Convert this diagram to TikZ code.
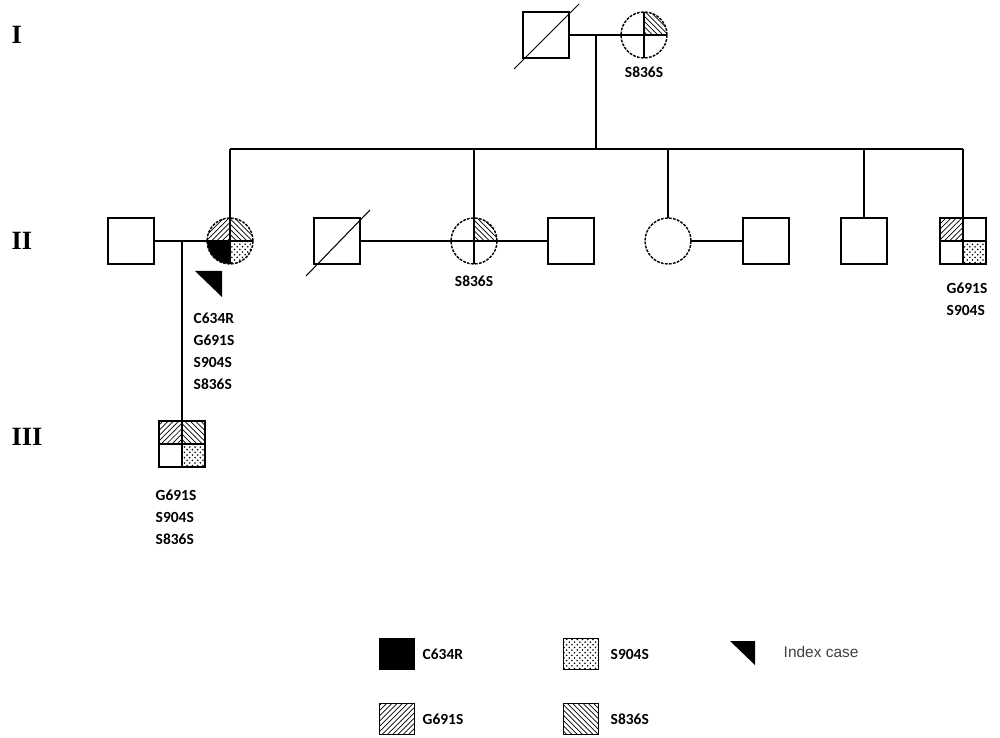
\documentclass[tikz,border=0pt]{standalone}
\usepackage{fontspec}
\setmainfont{Carlito}
\newfontfamily\genfont{Liberation Serif}
\newfontfamily\notefont{Liberation Sans}
\usetikzlibrary{patterns,calc,positioning}

% quarter of a circle node / of a square node
\newcommand\cquart[3]{\fill[#3] (#1.center) -- (#1.#2) arc[start angle=#2, delta angle=90, radius=0.46cm] -- cycle;}
\newcommand\squart[3]{\fill[#3] (#1.center) rectangle (#1.#2);}
\newcommand\cross[1]{\draw (#1.north) -- (#1.south) (#1.west) -- (#1.east);}

\begin{document}
\begin{tikzpicture}[
      x=0.02cm, y=0.02cm, line width=0.8pt,
      male/.style ={draw, rectangle, minimum size=0.92cm, inner sep=0pt, outer sep=0pt},
      female/.style ={draw, circle, dash pattern=on 1.6pt off 0.7pt, minimum size=0.92cm, inner sep=0pt, outer sep=0pt},
      var/.style ={font=\bfseries\fontsize{8.8}{12.5}\selectfont, align=left, anchor=north west, inner sep=0pt},
      gen/.style ={font=\genfont\bfseries\fontsize{15}{15}\selectfont, anchor=west, inner sep=0pt},
      keybox/.style ={draw, minimum width=0.7cm, minimum height=0.62cm, inner sep=0pt},
      keytext/.style ={font=\bfseries\fontsize{8.8}{10}\selectfont, anchor=west, inner sep=0pt},
      dead/.style ={line width=0.6pt}]
    \useasboundingbox (0,0) rectangle (1000,737);

    % generations
    \node[gen] (gI) at (11,702) {I};
    \node[gen] (gII) at (11,496) {II};
    \node[gen] (gIII) at (11,300) {III};

    % I
    \node[male] (I1) at (546,702) {};
    \node[female] (I2) at (644,702) {};
    \cquart{I2}{0}{pattern=north west lines}
    \cross{I2}
    \draw[dead] ($(I1)+(-32,-34)$) -- ($(I1)+(33,31)$);
    \node[font=\bfseries\fontsize{8.8}{10}\selectfont] (vI2) at (644,665) {S836S};
    \draw (I1) -- (I2);
    \coordinate (c1) at (596,702);
    \coordinate (s1) at (596,588);
    \draw (c1) -- (s1);

    % II
    \node[male] (II1) at (131,496) {};
    \node[female] (II2) at (230,496) {};
    \node[male] (II3) at (337,496) {};
    \node[female] (II4) at (474,496) {};
    \node[male] (II5) at (571,496) {};
    \node[female] (II6) at (668,496) {};
    \node[male] (II7) at (766,496) {};
    \node[male] (II8) at (864,496) {};
    \node[male] (II9) at (963,496) {};

    \cquart{II2}{90}{pattern=north east lines}
    \cquart{II2}{0}{pattern=north west lines}
    \cquart{II2}{180}{fill=black}
    \cquart{II2}{270}{pattern=crosshatch dots}
    \cross{II2}
    \cquart{II4}{0}{pattern=north west lines}
    \cross{II4}
    \squart{II9}{north west}{pattern=north east lines}
    \squart{II9}{south east}{pattern=crosshatch dots}
    \cross{II9}
    \draw[dead] ($(II3)+(-31,-35)$) -- ($(II3)+(33,31)$);
    \fill ($(II2)+(-35,-30)$) -- ($(II2)+(-8,-30)$) -- ($(II2)+(-8,-56)$) -- cycle;

    \node[var] (vII2) at (193,425) {C634R\\G691S\\S904S\\S836S};
    \node[font=\bfseries\fontsize{8.8}{10}\selectfont] (vII4) at (474,456) {S836S};
    \node[var] (vII9) at (946,455) {G691S\\S904S};

    \draw (II1) -- (II2);
    \draw (II3) -- (II4);
    \draw (II4) -- (II5);
    \draw (II6) -- (II7);
    \draw (II2 |- s1) -- (II9 |- s1);
    \foreach \n in {II2,II4,II6,II8,II9}
      \draw (\n |- s1) -- (\n);

    % III
    \node[male] (III1) at (182,293) {};
    \squart{III1}{north west}{pattern=north east lines}
    \squart{III1}{north east}{pattern=north west lines}
    \squart{III1}{south east}{pattern=crosshatch dots}
    \cross{III1}
    \node[var] (vIII1) at (155,248) {G691S\\S904S\\S836S};
    \coordinate (c2) at (182,496);
    \draw (c2) -- (III1);

    % key
    \node[keybox, fill=black] (kC) at (397,83) {};
    \node[keytext] (tC) at (422,83) {C634R};
    \node[keybox, pattern=crosshatch dots] (kS9) at (581,83) {};
    \node[keytext] (tS9) at (610,83) {S904S};
    \node[keybox, pattern=north east lines] (kG) at (397,18) {};
    \node[keytext] (tG) at (422,18) {G691S};
    \node[keybox, pattern=north west lines] (kS8) at (581,18) {};
    \node[keytext] (tS8) at (610,18) {S836S};
    \fill (730,96) -- (755,96) -- (755,72) -- cycle;
    \node[anchor=west, inner sep=0pt, font=\notefont\fontsize{8.8}{10}\selectfont, text=black!75] (tIdx) at (783,85) {Index case};
\end{tikzpicture}
\end{document}
